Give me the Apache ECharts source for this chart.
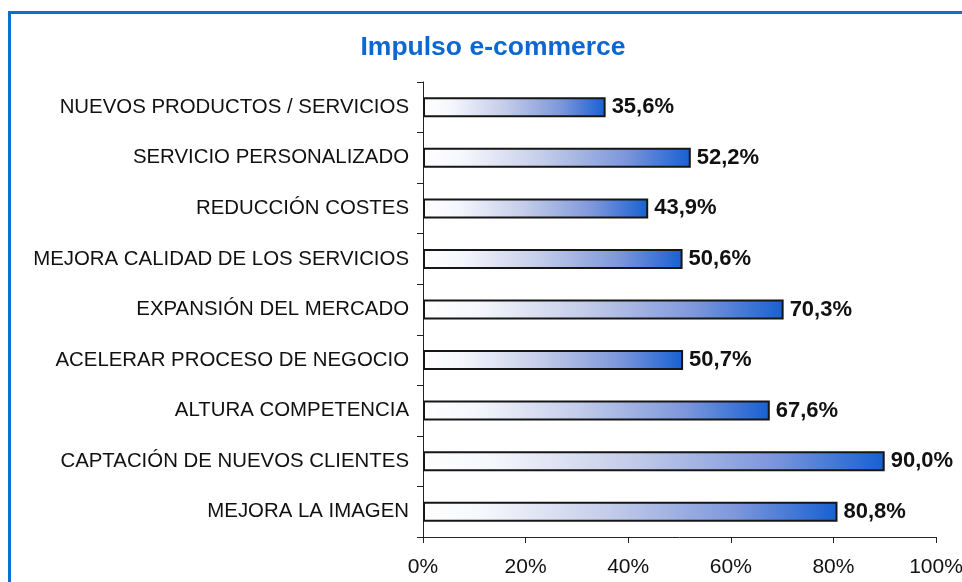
<!DOCTYPE html>
<html>
<head>
<meta charset="utf-8">
<title>Impulso e-commerce</title>
<script src="https://cdn.jsdelivr.net/npm/echarts@6/dist/echarts.min.js"></script>
<style>
    html, body { margin: 0; padding: 0; background: #fff; }
    #chart { width: 962px; height: 582px; }
</style>
</head>
<body>
<div id="chart"></div>
<script>
// categorias de arriba a abajo
var categorias = [
    'NUEVOS PRODUCTOS / SERVICIOS',
    'SERVICIO PERSONALIZADO',
    'REDUCCIÓN COSTES',
    'MEJORA CALIDAD DE LOS SERVICIOS',
    'EXPANSIÓN DEL MERCADO',
    'ACELERAR PROCESO DE NEGOCIO',
    'ALTURA COMPETENCIA',
    'CAPTACIÓN DE NUEVOS CLIENTES',
    'MEJORA LA IMAGEN'
];
var valores = [35.6, 52.2, 43.9, 50.6, 70.3, 50.7, 67.6, 90.0, 80.8];
var ticksX = [0, 20, 40, 60, 80, 100];

var myChart = echarts.init(document.getElementById('chart'));

// degradado blanco -> azul en cada barra
var degradado = new echarts.graphic.LinearGradient(0, 0, 1, 0, [
    { offset: 0, color: '#ffffff' },
    { offset: 0.15, color: '#f6f7fc' },
    { offset: 0.45, color: '#c3cce9' },
    { offset: 0.75, color: '#7f98dc' },
    { offset: 1, color: '#1760d2' }
]);

var option = {
    backgroundColor: '#ffffff',
    animation: false,
    title: {
        text: 'Impulso e-commerce',
        left: 488,
        top: 29,
        textAlign: 'center',
        textStyle: {
            color: '#0b68d0',
            fontFamily: 'Liberation Sans, Arial, sans-serif',
            fontWeight: 'bold',
            fontSize: 26.5
        }
    },
    graphic: [{
        type: 'rect',
        shape: { x: 9.5, y: 12.5, width: 1000, height: 1000 },
        style: { fill: 'none', stroke: '#0b6fd6', lineWidth: 3 },
        silent: true
    }],
    grid: {
        left: 423,
        right: 26,
        top: 82,
        bottom: 45,
        outerBoundsMode: 'none'
    },
    xAxis: {
        type: 'value',
        min: ticksX[0],
        max: ticksX[ticksX.length - 1],
        interval: 20,
        splitLine: { show: false },
        axisLine: { show: true, lineStyle: { color: '#222', width: 1 } },
        axisTick: { show: true, length: 6, lineStyle: { color: '#222' } },
        axisLabel: {
            margin: 20,
            color: '#111',
            fontFamily: 'Liberation Sans, Arial, sans-serif',
            fontSize: 21,
            formatter: function (v) { return v + '%'; }
        }
    },
    yAxis: {
        type: 'category',
        inverse: true,
        data: categorias,
        axisLine: { show: true, lineStyle: { color: '#222', width: 1 } },
        axisTick: { show: true, length: 6, lineStyle: { color: '#222' } },
        axisLabel: {
            margin: 14,
            color: '#111',
            fontFamily: 'Liberation Sans, Arial, sans-serif',
            fontSize: 20.4
        }
    },
    series: [{
        type: 'bar',
        data: valores,
        barWidth: 20,
        itemStyle: {
            color: degradado,
            borderColor: '#161616',
            borderWidth: 2
        },
        label: {
            show: true,
            position: 'right',
            distance: 6,
            color: '#111',
            fontFamily: 'Liberation Sans, Arial, sans-serif',
            fontWeight: 'bold',
            fontSize: 22,
            formatter: function (p) {
                return p.value.toFixed(1).replace('.', ',') + '%';
            }
        }
    }]
};

myChart.setOption(option);
</script>
</body>
</html>
